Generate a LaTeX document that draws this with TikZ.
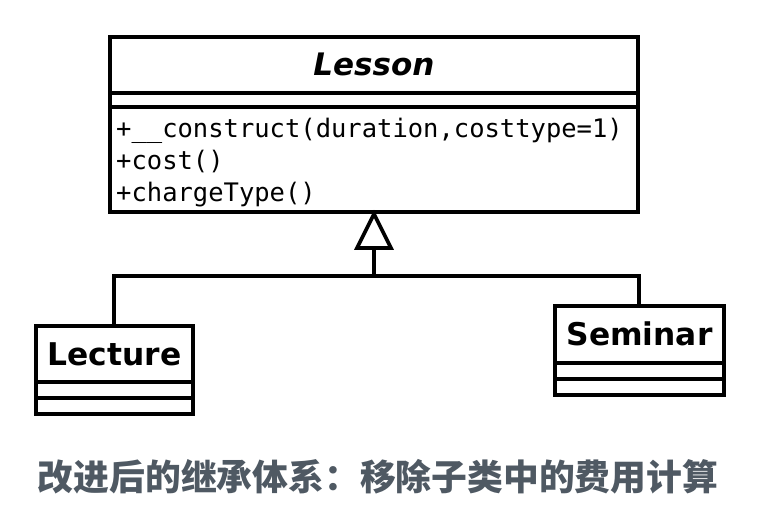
\documentclass[tikz,border=0pt]{standalone}
\usepackage{fontspec}
\setmainfont{DejaVu Sans}
\setmonofont{DejaVu Sans Mono}
\newfontfamily\cjk{Noto Sans CJK SC}
\definecolor{capgrey}{HTML}{4F5963}
\begin{document}
\begin{tikzpicture}[x=1pt,y=-1pt,
  box/.style={draw=black,line width=3.6pt},
  sep/.style={draw=black,line width=3.6pt},
  conn/.style={draw=black,line width=3.6pt},
  clsname/.style={font=\fontsize{31.3}{31.3}\selectfont\bfseries,inner sep=0pt,anchor=center},
  meth/.style={font=\fontsize{25.5}{25.5}\ttfamily,inner sep=0pt,anchor=base west},
  caption/.style={font=\fontsize{35.8}{35.8}\cjk\bfseries,text=capgrey,inner sep=0pt,anchor=center}]
\useasboundingbox (0,0) rectangle (758,520);
% Lesson
\draw[box] (110,37) rectangle (638,212);
\draw[sep] (110,93) -- (638,93);
\draw[sep] (110,107) -- (638,107);
\node[clsname,font=\fontsize{31}{31}\selectfont\bfseries\itshape] (lesson) at (374,64) {Lesson};
\node[meth] (m1) at (116,137) {+\_\_construct(duration,costtype=1)};
\node[meth] (m2) at (116,169) {+cost()};
\node[meth] (m3) at (116,201) {+chargeType()};
\coordinate (lessonbot) at (374,214);
% Lecture
\draw[box] (36,326) rectangle (193,414);
\draw[sep] (36,382) -- (193,382);
\draw[sep] (36,398) -- (193,398);
\node[clsname] (lecture) at (114.5,354) {Lecture};
\coordinate (lecturetop) at (114,326);
% Seminar
\draw[box] (555,306) rectangle (724,395);
\draw[sep] (555,363) -- (724,363);
\draw[sep] (555,379) -- (724,379);
\node[clsname] (seminar) at (639.5,334) {Seminar};
\coordinate (seminartop) at (639,306);
% inheritance
\coordinate (tribase) at (374,248);
\coordinate (junction) at (374,276);
\draw[conn,line join=miter] (lessonbot) -- (391,248) -- (357,248) -- cycle;
\draw[conn] (tribase) -- (junction);
\draw[conn] (lecturetop) |- (junction) -| (seminartop);
% caption
\node[caption] (cap) at (378,477) {改进后的继承体系：移除子类中的费用计算};
\end{tikzpicture}
\end{document}
